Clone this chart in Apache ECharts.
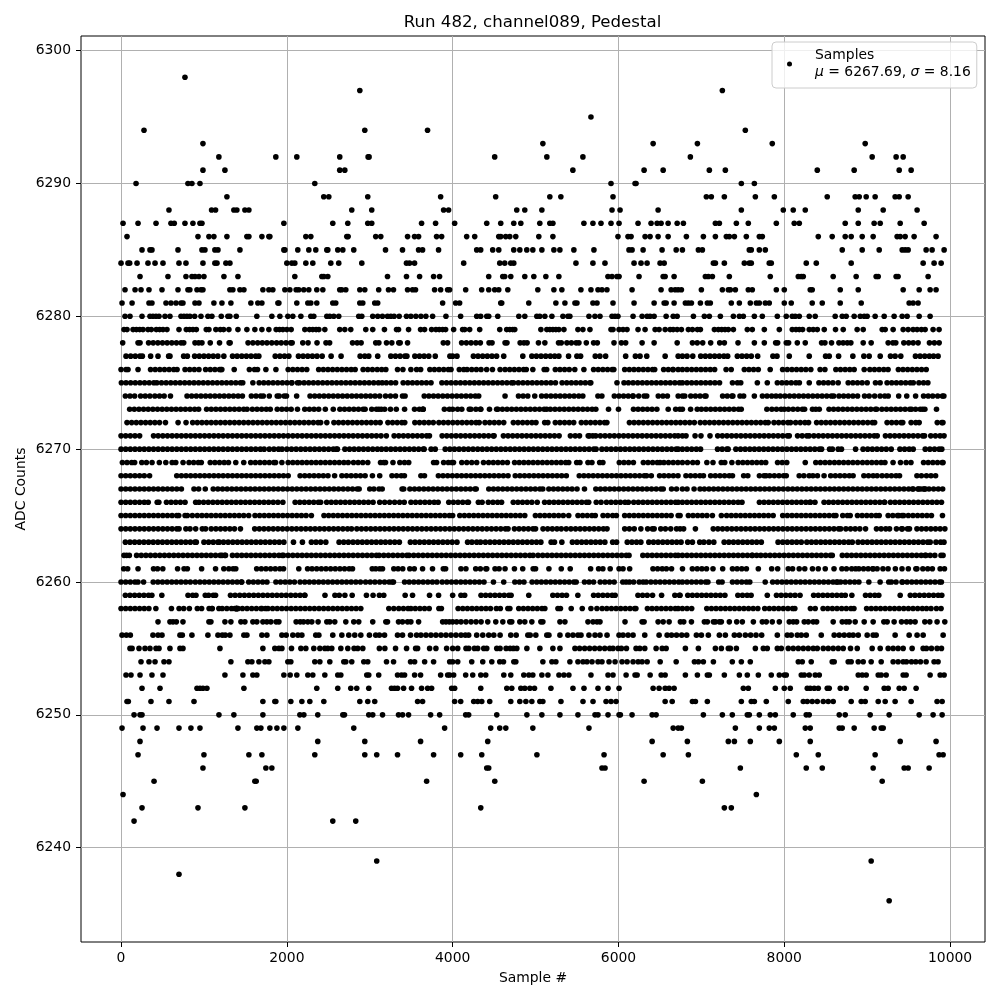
<!DOCTYPE html>
<html><head><meta charset="utf-8">
<style>html,body{margin:0;padding:0;background:#fff}#c{width:1000px;height:1000px}</style>
<script src="https://cdn.jsdelivr.net/npm/echarts@6/dist/echarts.min.js"></script>
</head><body><div id="c"></div>
<script>
const titleText = 'Run 482, channel089, Pedestal';
const xName = 'Sample #';
const yName = 'ADC Counts';
const xTicks = [0,2000,4000,6000,8000,10000];
const yTicks = [6240,6250,6260,6270,6280,6290,6300];
const r6298=[771];
const r6297=[2880,7253];
const r6295=[5668];
const r6294=[277,2940,3697,7530];
const r6293=[988,5088,6418,6952,7855,8976];
const r6292=[1180,1867,2120,2638,2980,2992,4507,5136,5571,6867,9060,9349,9434];
const r6291=[988,1253,2638,2699,5450,6309,6539,7096,7289,8398,8843,9386,9530];
const r6290=[181,807,855,952,2337,5910,6200,6212,7482,7639];
const r6289=[1277,2445,2506,2976,3855,4519,5172,5305,5934,7060,7120,7277,7651,7880,8518,8855,8904,8988,9096,9337,9386,9494];
const r6288=[578,1092,1140,1361,1397,1494,1542,2783,3024,3891,3951,4773,4870,5076,5922,6019,6478,7482,7988,8108,8253,8892,9193,9602];
const r6287=[24,205,422,602,642,771,867,952,976,1964,2554,2735,2976,3024,3625,3794,4024,4411,4580,4737,4822,5051,5172,5209,5583,5692,5789,5910,6007,6236,6393,6466,6514,6599,6708,6783,7169,7217,7422,7566,7904,8120,8181,8735,8892,9084,9157,9398,9687];
const r6286=[72,928,1060,1120,1277,1518,1542,1699,1783,1795,2229,2289,2723,2739,3072,3133,3456,3540,3589,3806,3867,4169,4266,4556,4580,4640,4689,4761,5039,5209,5994,6115,6152,6321,6381,6478,6599,6819,7024,7169,7301,7337,7398,7542,7699,7735,8410,8578,8735,8807,8940,9072,9361,9398,9458,9566,9831];
const r6285=[253,349,373,687,976,1012,1132,1169,1434,1964,1976,2132,2265,2349,2482,2494,2614,2675,2807,3190,3395,3589,3637,3830,4290,4338,4483,4556,4737,4810,4894,4967,5076,5221,5293,5462,5704,6127,6164,6297,6526,6696,6771,6964,7012,7578,7602,7699,7771,8699,8940,9145,9422,9458,9494,9711,9783,9928];
const r6284=[0,84,104,193,325,410,506,699,783,988,1132,1157,1265,1313,2000,2060,2096,2229,2313,2530,2626,2904,3443,3480,3540,4133,4568,4628,4701,4737,5487,5692,5837,6188,6272,6345,6502,6551,7145,7169,7277,7518,7578,7602,7819,7843,8265,8386,8807,9675,9807,9892];
const r6283=[229,566,783,855,892,940,1000,1241,1410,2096,2422,2446,2494,3214,3443,3601,3770,3842,4435,4604,4628,4701,4870,4979,5124,5281,5873,5922,5982,6007,6248,6539,6563,6671,7048,7084,7133,7337,7831,8169,8205,8229,8590,8867,9108,9133,9349,9373,9735];
const r6282=[48,169,241,337,494,687,807,830,916,964,988,1313,1349,1434,1482,1711,1783,1831,1976,2036,2112,2144,2204,2265,2361,2434,2638,2662,2711,2880,2940,3108,3226,3286,3456,3516,3552,3782,3855,3939,3963,4157,4350,4435,4507,4556,4665,5027,5221,5317,5547,5668,5753,5801,5861,6164,6514,6635,6684,6720,6759,7000,7253,7325,7349,7410,7566,7614,7904,8000,8313,8337,8675,8892,9434,9627,9759,9831];
const r6281=[12,133,337,373,542,602,663,723,747,892,940,1120,1217,1325,1566,1650,1699,1892,1904,2120,2253,2289,2361,2554,2590,2880,2916,3060,3096,3879,4036,4084,4580,4592,4918,5245,5354,5475,5499,5692,5741,5934,6188,6430,6551,6575,6671,6807,6843,6880,6988,7072,7108,7361,7458,7590,7663,7699,7771,7819,8000,8084,8337,8458,8675,8928,9506,9554,9614];
const r6280=[48,108,253,349,385,422,458,530,590,723,759,795,831,888,964,1048,1096,1209,1289,1313,1390,1638,1819,1916,2012,2072,2169,2289,2325,2482,2518,2566,2626,2867,2904,3036,3096,3153,3214,3254,3294,3355,3443,3496,3556,3617,3677,3758,3919,4096,4290,4338,4411,4435,4544,4798,4870,5015,5051,5112,5197,5330,5390,5414,5644,5716,5777,5922,5958,5994,6176,6285,6345,6381,6430,6575,6660,6708,6904,7036,7096,7229,7386,7458,7506,7639,7735,7916,8024,8096,8132,8181,8301,8373,8614,8699,8747,8843,8916,8964,9000,9096,9205,9325,9422,9482,9627,9759];
const r6279=[36,72,145,185,225,265,325,365,425,466,506,554,699,787,827,867,908,1028,1060,1144,1197,1237,1301,1410,1518,1614,1699,1783,1871,1912,1952,2000,2052,2217,2273,2313,2353,2386,2458,2638,2699,2771,2952,3036,3177,3323,3347,3468,3613,3661,3746,3798,3838,3879,3915,4012,4120,4145,4205,4326,4568,4652,4689,4725,4749,5064,5136,5172,5209,5245,5281,5342,5511,5571,5656,5910,5934,6007,6055,6103,6236,6321,6442,6490,6563,6623,6660,6708,6759,6843,6892,6952,6988,7157,7205,7245,7285,7325,7386,7554,7614,7759,7940,8096,8141,8181,8221,8301,8349,8398,8482,8618,8711,8879,8952,9181,9217,9313,9434,9494,9554,9602,9654,9699,9795,9867];
const r6278=[20,205,229,332,388,444,500,556,612,668,724,756,892,936,976,1076,1188,1304,1316,1532,1590,1648,1704,1760,1818,1876,1932,1990,2046,2064,2192,2256,2364,2472,2516,2792,2848,2896,3072,3110,3202,3266,3350,3367,3456,3887,3939,4108,4165,4222,4280,4334,4439,4475,4632,4655,4814,4860,4898,5035,5112,5277,5310,5378,5432,5490,5523,5612,5700,5745,5946,6035,6087,6285,6430,6708,6892,6950,7016,7112,7221,7277,7442,7639,7759,7896,7920,8024,8052,8157,8253,8450,8490,8570,8659,8710,8760,8803,8952,9048,9253,9310,9345,9442,9500,9555,9614,9751,9810,9868];
const r6277=[60,116,172,228,257,357,446,574,590,755,800,888,944,1000,1056,1112,1168,1240,1345,1400,1456,1512,1568,1624,1662,1860,1916,1972,2024,2140,2196,2252,2308,2364,2426,2534,2654,2884,2940,2988,3096,3254,3310,3366,3424,3448,3544,3600,3656,3712,3790,3967,4000,4052,4250,4306,4362,4418,4474,4530,4616,4846,4955,5010,5066,5122,5178,5231,5281,5398,5499,5543,5720,5776,5845,6087,6204,6260,6341,6563,6720,6771,6827,6896,6992,7048,7104,7160,7216,7272,7317,7434,7490,7546,7602,7679,7863,7912,8060,8301,8498,8542,8655,8827,8960,9024,9157,9281,9337,9405,9582,9638,9694,9750,9800,9855];
const r6276=[0,60,84,205,356,412,468,524,580,636,676,772,828,884,940,1020,1076,1132,1188,1216,1204,1365,1548,1610,1646,1747,1868,2016,2072,2128,2184,2240,2384,2440,2496,2552,2608,2664,2720,2776,2824,2920,2976,3032,3090,3144,3194,3335,3400,3496,3565,3614,3725,3780,3836,3892,3948,3980,4080,4134,4174,4230,4286,4342,4410,4480,4572,4632,4688,4744,4800,4856,4888,4967,5104,5134,5238,5294,5350,5406,5473,5583,5700,5756,5812,5868,5924,5944,6075,6131,6187,6243,6299,6355,6411,6437,6545,6601,6657,6659,6720,6771,6827,6883,6939,6995,7051,7107,7160,7298,7360,7518,7574,7630,7686,7830,7980,8036,8092,8148,8204,8260,8320,8432,8490,8622,8678,8734,8790,8843,8964,9032,9088,9144,9200,9252,9376,9432,9488,9544,9600,9656,9712];
const r6275=[4,60,116,172,228,284,340,396,432,488,544,600,656,712,768,824,880,936,992,1048,1104,1160,1216,1272,1328,1384,1440,1468,1590,1666,1722,1778,1834,1890,1946,2002,2058,2060,2128,2152,2208,2264,2320,2376,2432,2488,2544,2600,2656,2712,2768,2824,2880,2936,2992,3048,3104,3150,3200,3256,3312,3403,3459,3515,3571,3627,3683,3739,3870,3926,3982,4038,4094,4150,4206,4262,4318,4374,4430,4486,4542,4598,4654,4710,4734,4792,4848,4904,4960,5016,5072,5128,5184,5240,5320,5376,5432,5488,5544,5600,5656,5666,5982,6067,6120,6176,6232,6288,6344,6400,6456,6512,6568,6624,6680,6736,6771,6827,6883,6939,6995,7051,7107,7163,7219,7375,7435,7475,7675,7795,7916,7972,8028,8084,8140,8182,8301,8418,8474,8530,8586,8650,8771,8827,8883,8939,9000,9100,9156,9240,9296,9352,9408,9464,9520,9556,9624,9680,9732];
const r6274=[52,108,164,236,292,348,408,464,520,596,796,852,908,964,1020,1076,1132,1188,1244,1300,1356,1412,1464,1572,1628,1684,1716,1788,1884,1908,1968,1996,2118,2280,2336,2392,2448,2504,2560,2616,2672,2728,2784,2840,2896,2952,3008,3064,3120,3190,3250,3310,3395,3426,3657,3713,3769,3825,3881,3937,3993,4049,4105,4161,4217,4273,4314,4632,4794,4850,4906,4990,5073,5129,5185,5241,5297,5353,5409,5465,5521,5570,5752,5800,5950,6006,6062,6118,6174,6176,6244,6310,6341,6480,6536,6590,6720,6771,6800,6872,6928,6984,7040,7056,7256,7312,7368,7380,7466,7510,7639,7736,7792,7848,7900,7952,8008,8064,8120,8176,8232,8288,8344,8400,8456,8512,8568,8596,8660,8716,8772,8828,8884,8968,9024,9090,9156,9212,9254,9380,9477,9584,9680,9736,9790,9850,9925,9907];
const r6273=[104,160,216,272,328,384,440,496,552,608,664,720,776,832,888,936,1032,1088,1144,1200,1256,1312,1368,1424,1480,1520,1584,1640,1696,1752,1800,1884,1940,1996,2052,2128,2216,2272,2328,2384,2464,2560,2640,2696,2752,2808,2864,2920,2944,3024,3080,3110,3140,3180,3250,3320,3420,3540,3598,3640,3644,3644,3900,3960,4000,4060,4110,4200,4220,4280,4334,4340,4444,4530,4545,4600,4656,4712,4768,4824,4880,4936,4992,5048,5104,5134,5178,5234,5290,5346,5402,5458,5514,5570,5626,5682,5727,5880,6000,6181,6237,6293,6349,6405,6463,6600,6690,6740,6771,6870,6950,7000,7056,7112,7168,7224,7280,7336,7392,7448,7481,7790,7850,7906,7962,8000,8050,8106,8162,8218,8245,8340,8380,8422,8540,8595,8651,8707,8763,8819,8875,8931,8987,9043,9099,9115,9177,9233,9289,9345,9401,9457,9513,9535,9584,9640,9696,9670,9836];
const r6272=[72,128,184,240,296,352,408,464,536,688,784,864,920,976,1032,1088,1144,1200,1256,1312,1368,1424,1480,1536,1592,1648,1704,1760,1816,1872,1928,1984,2040,2096,2152,2208,2264,2320,2376,2408,2482,2568,2624,2680,2736,2792,2848,2904,2960,3016,3072,3125,3219,3275,3331,3387,3422,3544,3600,3656,3712,3766,3834,3890,3946,4002,4058,4114,4170,4226,4282,4320,4390,4446,4502,4558,4616,4732,4788,4844,4900,4956,5005,5110,5148,5238,5294,5350,5406,5460,5552,5608,5664,5720,5776,5832,5860,6132,6188,6244,6300,6356,6412,6468,6524,6580,6636,6692,6747,6803,6859,6915,6987,7043,7099,7155,7211,7267,7323,7379,7435,7491,7547,7603,7659,7715,7771,7806,7876,7932,7988,8044,8076,8137,8193,8249,8293,8390,8446,8502,8558,8614,8670,8726,8782,8838,8894,8950,9006,9062,9090,9240,9296,9352,9408,9429,9530,9586,9627,9845,9900,9914];
const r6271=[0,56,112,168,224,392,448,504,560,616,672,728,784,840,896,952,1008,1064,1120,1176,1232,1288,1344,1400,1456,1512,1568,1624,1680,1736,1792,1848,1904,1960,2016,2072,2128,2184,2240,2296,2352,2408,2464,2520,2576,2632,2688,2744,2800,2856,2912,2968,3024,3080,3136,3200,3294,3350,3406,3462,3518,3574,3630,3686,3720,3873,3929,3985,4041,4097,4153,4209,4265,4321,4377,4433,4489,4500,4612,4668,4724,4780,4836,4892,4948,5004,5060,5116,5172,5228,5284,5420,5478,5530,5635,5690,5650,5726,5782,5838,5894,5950,6006,6062,6118,6174,6230,6286,6342,6398,6454,6510,6566,6622,6678,6720,6771,6815,6924,6995,7104,7197,7253,7309,7365,7421,7477,7533,7589,7645,7701,7757,7813,7869,7925,7981,8037,8060,8160,8216,8272,8300,8357,8413,8469,8525,8581,8637,8693,8749,8805,8861,8917,8973,9029,9085,9121,9220,9276,9332,9388,9444,9500,9556,9612,9668,9692,9767,9823,9879,9927];
const r6270=[0,56,112,168,224,280,336,392,448,504,560,616,672,728,784,840,896,952,1008,1064,1120,1176,1232,1288,1344,1400,1456,1512,1568,1624,1680,1726,1788,1844,1900,1942,2000,2056,2112,2168,2224,2280,2336,2392,2448,2504,2560,2596,2610,2700,2756,2812,2868,2924,2980,3036,3092,3142,3198,3254,3310,3366,3422,3478,3534,3590,3646,3656,3740,3790,3910,3966,4022,4078,4134,4190,4246,4302,4358,4414,4470,4526,4582,4638,4694,4750,4806,4862,4918,4974,5030,5086,5142,5198,5254,5310,5366,5422,5478,5534,5590,5646,5702,5730,5800,5856,5912,5968,6024,6080,6136,6192,6248,6304,6360,6416,6472,6528,6584,6640,6696,6720,6771,6827,6883,6939,6990,7195,7251,7307,7323,7416,7472,7528,7584,7640,7696,7752,7808,7864,7920,7976,8032,8088,8144,8200,8256,8312,8368,8424,8450,8546,8580,8650,8690,8860,8950,9006,9062,9118,9174,9230,9290,9395,9451,9507,9555,9700,9756,9812,9868,9900];
const r6269=[16,72,128,164,250,306,374,462,540,616,660,748,820,876,932,968,1076,1132,1188,1244,1296,1384,1480,1564,1620,1676,1732,1788,1844,1864,1940,2016,2072,2128,2184,2240,2296,2352,2408,2464,2520,2576,2632,2688,2740,2804,2860,2916,2976,3168,3130,3190,3280,3363,3419,3470,3770,3806,3891,3947,3990,4010,4110,4170,4230,4290,4372,4434,4490,4546,4602,4660,4747,4803,4859,4915,4971,5027,5083,5139,5195,5251,5307,5363,5400,5496,5535,5632,5680,5773,5812,6010,6066,6122,6180,6300,6356,6412,6468,6501,6548,6604,6660,6716,6771,6832,6896,6952,7066,7140,7240,7282,7368,7444,7500,7556,7612,7668,7724,7776,7919,7975,8030,8253,8380,8436,8492,8548,8605,8660,8716,8772,8828,8884,8944,9000,9056,9112,9168,9214,9312,9402,9470,9528,9680,9736,9792,9848,9904,9915];
const r6268=[0,56,112,168,224,280,344,672,728,784,840,896,952,1008,1064,1120,1176,1232,1288,1344,1400,1456,1512,1568,1624,1680,1736,1792,1848,1904,1960,2016,2160,2216,2272,2328,2384,2440,2496,2576,2664,2720,2776,2832,2888,2944,3032,3120,3268,3324,3380,3418,3617,3660,3828,3884,3940,3996,4052,4108,4164,4220,4276,4332,4388,4444,4500,4556,4612,4668,4755,4811,4867,4923,4979,5035,5091,5147,5203,5259,5315,5371,5527,5583,5639,5695,5751,5807,5863,5919,5975,6031,6087,6143,6199,6255,6311,6339,6396,6496,6550,6606,6662,6718,6814,6870,6926,6982,7025,7112,7168,7224,7280,7336,7375,7510,7560,7700,7756,7780,7824,7880,7936,7992,8024,8180,8236,8300,8345,8400,8480,8560,8616,8672,8728,8784,8830,8960,9016,9072,9120,9180,9236,9292,9348,9390,9600,9654,9715,9770,9825];
const r6267=[0,56,112,168,224,280,336,392,448,504,560,616,672,728,880,936,1016,1112,1168,1224,1280,1336,1392,1448,1504,1560,1616,1672,1728,1784,1840,1896,1952,2008,2064,2120,2176,2232,2288,2344,2400,2456,2512,2568,2624,2680,2736,2792,2848,2872,3000,3050,3112,3150,3390,3410,3484,3540,3596,3652,3708,3764,3820,3876,3932,3988,4044,4100,4156,4212,4268,4284,4436,4492,4548,4604,4660,4716,4772,4828,4884,4940,4996,5052,5087,5160,5216,5272,5328,5384,5440,5500,5590,5727,5783,5839,5895,5951,6007,6063,6119,6175,6231,6287,6343,6399,6455,6511,6540,6640,6700,6771,6827,6912,6984,7036,7092,7148,7204,7260,7316,7372,7428,7484,7540,7596,7652,7708,7764,7820,7876,7932,7988,8044,8100,8156,8212,8268,8324,8380,8436,8492,8548,8604,8660,8716,8772,8828,8884,8940,8996,9052,9108,9164,9220,9276,9332,9388,9444,9500,9556,9612,9546,9620,9680,9690,9703,9646,9746,9802,9858,9910];
const r6266=[0,56,112,168,224,280,328,436,456,548,604,660,716,772,900,940,996,1052,1108,1164,1220,1276,1332,1388,1444,1500,1556,1612,1668,1724,1780,1836,1892,1952,2100,2156,2212,2268,2324,2380,2408,2480,2536,2592,2648,2704,2760,2816,2872,2928,2984,3040,3120,3180,3240,3300,3360,3416,3497,3553,3609,3665,3721,3777,3825,3953,4009,4065,4121,4177,4190,4310,4355,4430,4486,4542,4590,4731,4787,4843,4899,4955,5020,5109,5165,5221,5277,5333,5389,5445,5501,5557,5613,5641,5732,5790,5855,5911,5967,6023,6079,6120,6184,6240,6296,6352,6408,6464,6520,6576,6632,6688,6720,6771,6827,6883,6939,6995,7051,7107,7163,7219,7275,7331,7387,7443,7490,7700,7756,7812,7868,7924,7980,8036,8092,8148,8204,8260,8316,8310,8370,8480,8536,8592,8648,8704,8760,8816,8872,8928,8984,9040,9096,9152,9208,9210,9280,9336,9392,9448,9504,9560,9616,9672,9728,9784,9840,9896];
const r6265=[0,56,112,168,224,280,336,392,448,504,560,616,672,696,772,800,860,920,976,1032,1088,1144,1200,1256,1312,1368,1424,1480,1540,1616,1672,1728,1784,1840,1896,1952,2008,2064,2120,2176,2232,2296,2448,2504,2560,2616,2672,2728,2784,2840,2896,2952,3008,3064,3120,3176,3232,3288,3344,3400,3456,3512,3568,3624,3680,3736,3792,3848,3904,3960,4000,4086,4142,4198,4254,4310,4366,4422,4478,4534,4590,4646,4702,4758,4814,4870,4998,5054,5110,5166,5222,5278,5334,5400,5512,5568,5624,5680,5720,5814,5870,5930,5975,6075,6131,6187,6243,6299,6355,6411,6467,6523,6579,6635,6720,6743,6843,6899,6955,7011,7067,7133,7241,7305,7361,7417,7473,7529,7585,7641,7697,7753,7809,7866,7981,8037,8093,8149,8205,8261,8317,8373,8429,8485,8541,8597,8623,8705,8761,8795,8883,8939,8995,9051,9107,9145,9253,9309,9365,9421,9380,9440,9496,9552,9608,9664,9720,9775,9908];
const r6264=[0,56,112,168,224,280,336,392,448,504,560,616,672,700,782,832,900,980,1020,1088,1144,1200,1256,1312,1368,1440,1612,1668,1724,1780,1836,1892,1948,2004,2060,2116,2172,2228,2284,2340,2396,2452,2508,2564,2620,2676,2732,2780,2844,2900,2956,3012,3068,3124,3180,3236,3292,3348,3404,3460,3516,3572,3628,3684,3740,3796,3852,3908,3964,4020,4076,4132,4188,4244,4300,4356,4412,4468,4524,4580,4636,4668,4745,4801,4857,4913,4969,5000,5090,5146,5202,5258,5310,5370,5426,5482,5538,5594,5650,5706,5762,5818,5862,6075,6131,6190,6270,6352,6408,6431,6510,6566,6630,6700,6743,6786,6928,7143,7199,7255,7311,7367,7423,7479,7535,7591,7647,7703,7759,7815,7871,7927,7983,8039,8095,8151,8207,8263,8319,8375,8431,8487,8543,8599,8655,8681,8743,8799,8855,8911,8980,9112,9168,9224,9270,9353,9415,9424,9486,9510,9600,9656,9712,9768,9824,9880,9937];
const r6263=[52,108,164,220,276,332,388,444,500,556,612,668,724,780,836,892,908,1000,1056,1112,1168,1184,1236,1292,1348,1404,1460,1516,1572,1628,1684,1740,1796,1852,1908,1964,2080,2188,2296,2352,2408,2470,2630,2686,2742,2798,2854,2910,2966,3022,3078,3134,3189,3245,3301,3357,3490,3546,3602,3658,3714,3770,3826,3882,3938,3994,4052,4180,4232,4290,4336,4395,4451,4507,4563,4619,4675,4731,4787,4843,4899,4955,5011,5064,5188,5228,5317,5444,5500,5556,5612,5668,5724,5780,5836,5930,5977,6106,6162,6218,6270,6366,6422,6478,6534,6590,6646,6702,6755,6835,6892,6980,7030,7091,7150,7275,7331,7387,7443,7499,7555,7611,7667,7723,7925,7981,8037,8093,8149,8205,8272,8328,8384,8440,8496,8552,8608,8664,8720,8776,8820,8890,8946,9002,9058,9114,9170,9226,9282,9338,9394,9450,9506,9562,9618,9674,9729,9760,9830,9886,9926];
const r6262=[36,68,100,188,244,300,356,412,468,524,580,636,692,748,804,860,916,972,1028,1084,1140,1196,1252,1218,1260,1344,1400,1456,1512,1568,1624,1680,1736,1792,1848,1904,1960,1944,2016,2072,2128,2184,2240,2296,2352,2408,2464,2520,2576,2632,2688,2744,2800,2856,2912,2968,3024,3080,3113,3169,3225,3281,3337,3393,3448,3474,3530,3586,3642,3698,3754,3810,3866,3922,3978,4034,4090,4146,4202,4258,4314,4370,4426,4482,4538,4594,4650,4706,4762,4818,4874,4930,4970,5030,5086,5142,5198,5254,5310,5366,5422,5478,5534,5590,5646,5702,5758,5814,5870,5926,5982,6038,6094,6127,6294,6350,6406,6462,6518,6574,6630,6686,6720,6771,6827,6883,6939,6995,7051,7107,7163,7219,7275,7331,7387,7443,7499,7555,7611,7667,7615,7717,7773,7829,7885,7941,7997,8053,8109,8165,8221,8277,8333,8389,8445,8501,8557,8579,8700,8756,8812,8868,8924,8980,9036,9092,9148,9204,9260,9316,9372,9428,9484,9540,9596,9652,9708,9699,9760,9816,9890,9915];
const r6261=[32,80,205,392,440,504,682,760,800,972,1140,1240,1300,1352,1384,1636,1692,1748,1804,1860,1916,1960,2144,2250,2304,2360,2416,2472,2528,2584,2640,2696,2752,2792,3030,3072,3120,3154,3290,3342,3398,3483,3537,3637,3757,3887,3915,4100,4160,4278,4334,4400,4411,4511,4560,4632,4745,4845,4971,5000,5161,5310,5418,5664,5760,5812,5900,6007,6055,6135,6416,6472,6528,6578,6640,6772,6891,6950,7006,7062,7140,7257,7375,7431,7487,7543,7687,7848,7920,8048,8100,8180,8247,8340,8410,8494,8600,8695,8750,8813,8860,8900,8956,9012,9068,9070,9120,9190,9252,9340,9420,9496,9587,9600,9671,9730,9786,9880,9932];
const r6260=[0,56,112,168,204,272,388,444,500,556,612,668,724,780,836,896,952,1008,1064,1120,1176,1232,1288,1344,1400,1456,1452,1540,1596,1652,1708,1760,1868,1924,1980,2036,2092,2160,2216,2272,2328,2384,2440,2496,2552,2608,2664,2720,2776,2832,2888,2950,3006,3062,3120,3178,3234,3270,3286,3420,3476,3532,3588,3644,3700,3756,3810,3874,3930,3986,4042,4098,4154,4210,4266,4322,4378,4492,4616,4750,4806,4860,4958,5014,5070,5126,5182,5238,5294,5350,5406,5462,5490,5590,5646,5700,5780,5836,5892,5948,6052,6092,6133,6183,6250,6297,6335,6391,6447,6503,6559,6615,6671,6727,6771,6827,6883,6939,6995,7051,7079,7209,7250,7375,7431,7487,7543,7584,7770,7860,7916,7972,8028,8084,8140,8196,8252,8308,8364,8420,8476,8532,8588,8644,8630,8680,8736,8792,8848,8900,9020,9156,9260,9292,9348,9420,9426,9482,9538,9594,9650,9706,9762,9818,9874,9895];
const r6259=[52,108,164,220,276,332,372,492,808,864,904,1016,1056,1112,1140,1320,1376,1432,1488,1544,1600,1656,1712,1768,1824,1880,1936,1992,2048,2104,2160,2216,2216,2460,2580,2632,2700,2788,2960,3040,3116,3169,3427,3516,3721,3830,4000,4100,4145,4342,4398,4454,4510,4566,4622,4678,4705,4918,5208,5264,5320,5373,5510,5700,5756,5812,5868,5924,5960,6235,6291,6347,6411,6520,6680,6735,6743,6836,6892,6948,7004,7060,7116,7172,7228,7284,7440,7496,7552,7600,7795,7906,7962,8018,8074,8130,8190,8354,8410,8466,8522,8578,8634,8690,8736,8815,8980,9036,9092,9140,9398,9520,9576,9632,9688,9744,9800,9856,9900];
const r6258=[0,56,112,168,224,280,336,420,608,700,756,824,920,972,1062,1096,1100,1180,1220,1276,1332,1388,1392,1412,1396,1372,1392,1400,1464,1520,1576,1632,1688,1700,1744,1772,1828,1884,1940,1996,2052,2108,2164,2220,2276,2332,2388,2444,2500,2556,2612,2668,2724,2780,2836,2892,3230,3290,3350,3406,3462,3496,3549,3605,3661,3717,3834,3864,4066,4122,4178,4234,4290,4346,4402,4456,4527,4575,4666,4690,4797,4853,4909,4965,5021,5077,5112,5270,5300,5430,5563,5668,5740,5803,5859,5915,5971,6027,6083,6139,6195,6210,6349,6405,6461,6517,6573,6629,6685,6720,6771,6827,6883,7065,7121,7177,7233,7289,7345,7401,7457,7513,7569,7625,7681,7764,7820,7876,7932,7988,8044,8100,8127,8315,8373,8468,8524,8580,8636,8692,8748,8804,8840,8993,9049,9105,9161,9217,9273,9329,9385,9441,9497,9553,9609,9665,9716,9770,9835,9891];
const r6257=[446,590,627,667,747,1060,1084,1253,1325,1446,1494,1590,1638,1711,1759,1807,1871,1904,2112,2161,2201,2253,2301,2377,2482,2518,2578,2711,2807,2867,3036,3194,3214,3347,3395,3456,3496,3589,3879,3919,3960,4000,4048,4101,4161,4222,4282,4343,4423,4520,4605,4689,4713,4810,4870,4955,5064,5088,5294,5354,5632,5693,5741,5777,6079,6285,6309,6478,6539,6611,6747,6787,6880,7036,7072,7145,7169,7217,7241,7337,7426,7494,7627,7735,7783,7855,7940,8060,8108,8149,8241,8289,8349,8390,8590,8699,8747,8783,8855,8964,9072,9201,9241,9325,9414,9474,9522,9578,9695,9755,9843,9936];
const r6256=[12,64,112,385,446,494,711,739,855,1048,1169,1221,1257,1313,1482,1518,1699,1759,1940,1992,2072,2133,2181,2349,2386,2554,2663,2747,2819,2892,2996,3072,3116,3178,3335,3395,3492,3565,3617,3678,3738,3798,3859,3919,3980,4040,4101,4153,4193,4290,4363,4435,4496,4572,4701,4766,4907,4935,5003,5136,5161,5294,5390,5451,5511,5548,5644,5717,5777,5862,6007,6055,6116,6176,6317,6490,6587,6640,6700,6763,6823,6940,7000,7084,7217,7289,7398,7458,7530,7594,7659,7727,7916,8036,8084,8157,8205,8265,8446,8602,8663,8723,8783,8831,8892,9000,9072,9108,9337,9506,9602,9675,9916];
const r6255=[108,133,217,289,349,422,458,590,711,747,1193,1711,1855,1904,1940,2056,2169,2229,2325,2398,2458,2494,2542,2651,2735,2811,2855,2916,3116,3182,3311,3444,3553,3577,3722,3798,3927,4000,4061,4161,4194,4262,4302,4375,4411,4532,4572,4645,4693,4733,4774,4895,5052,5209,5294,5475,5531,5592,5652,5713,5773,5834,5894,5934,5995,6035,6096,6212,6257,6317,6454,6527,6575,6807,6964,7169,7241,7325,7349,7422,7651,7747,7795,7916,7964,8048,8108,8169,8229,8289,8349,8398,8470,8530,8590,8651,8711,8799,8880,9060,9157,9253,9313,9373,9434,9542,9675,9715,9775,9843,9896];
const r6254=[241,337,410,518,578,1325,1530,1578,1663,1735,1783,2012,2048,2337,2398,2518,2687,2711,2783,2928,2976,3202,3287,3492,3541,3662,3770,3964,4000,4061,4230,4363,4472,4568,4613,4738,4762,5088,5197,5245,5414,5511,5572,5620,5681,5753,5801,5886,5959,6043,6104,6176,6237,6285,6346,6503,6696,6916,6964,7024,7145,7373,7482,7590,8169,8217,8325,8578,8602,8771,8807,8892,8952,9048,9169,9313,9373,9434,9474,9534,9586,9643,9711,9807,9855];
const r6253=[60,120,229,373,506,1253,1470,1590,1638,1964,2040,2120,2253,2313,2458,2614,2651,2964,2988,3108,3335,3383,3420,3541,3613,3855,3940,3964,4012,4157,4242,4339,4399,4617,4701,4858,4919,4967,5076,5149,5282,5342,5402,5668,5874,5934,6092,6200,6225,6382,6515,6563,6807,6952,7072,7096,7277,7458,7554,7687,7843,7940,8000,8024,8205,8241,8301,8373,8422,8892,8940,8988,9133,9169,9229,9434,9470,9759,9880,9928];
const r6252=[253,470,916,952,988,1036,1482,2361,2614,2771,2843,2988,3262,3299,3335,3408,3504,3625,3698,3746,3988,4024,4339,4653,4713,4822,4870,4931,4987,5185,5451,5584,5753,5874,6007,6418,6490,6563,6611,6671,7506,7566,7892,8000,8072,8277,8313,8361,8410,8518,8542,8675,8747,8988,9205,9253,9386,9446,9590];
const r6251=[72,88,361,578,880,1711,1855,1867,2048,2181,2277,2446,2880,2976,3060,3577,3637,4024,4097,4254,4302,4351,4447,4701,4810,4883,4955,5052,5088,5306,5572,5693,5850,5910,5971,6563,6648,6892,6928,7072,7482,7602,7639,7783,8048,8229,8277,8337,8398,8470,8530,8590,8807,8928,8976,9133,9217,9337,9530,9843,9904];
const r6250=[157,229,253,1181,1361,1711,2157,2205,2373,2675,2695,2988,3036,3154,3347,3396,3468,3734,3843,4157,4193,4532,4895,5076,5294,5511,5717,5753,5874,6007,6023,6164,6406,6454,7024,7253,7373,7554,7578,7699,7831,7892,8108,8265,8301,8663,8735,9036,9265,9627,9795,9904];
const r6249=[12,265,434,699,843,952,1410,1638,1687,1795,1880,1964,2133,2807,3903,4459,4568,4641,4967,5644,6660,6720,6759,7410,7699,7819,7880,8253,8313,8663,8699,8843,9084,9169,9193];
const r6248=[229,2373,2940,3613,4423,6406,6831,7325,7398,7590,7940,8313,9398,9831];
const r6247=[205,1000,1542,1699,2337,2940,3084,3335,3770,4097,4351,5016,5826,6539,6843,8145,8410,9096,9867,9916];
const r6246=[988,1747,1819,4411,4435,5801,5838,7470,8265,8458,9072,9446,9494,9747];
const r6245=[398,1614,1630,3686,4508,6309,7012,9181];
const r6244=[24,7663];
const r6243=[253,928,1494,4339,7277,7361];
const r6242=[157,2554,2831];
const r6239=[3084,9048];
const r6238=[699];
const r6236=[9265];
const levels=[[6298,r6298],[6297,r6297],[6295,r6295],[6294,r6294],[6293,r6293],[6292,r6292],[6291,r6291],[6290,r6290],[6289,r6289],[6288,r6288],[6287,r6287],[6286,r6286],[6285,r6285],[6284,r6284],[6283,r6283],[6282,r6282],[6281,r6281],[6280,r6280],[6279,r6279],[6278,r6278],[6277,r6277],[6276,r6276],[6275,r6275],[6274,r6274],[6273,r6273],[6272,r6272],[6271,r6271],[6270,r6270],[6269,r6269],[6268,r6268],[6267,r6267],[6266,r6266],[6265,r6265],[6264,r6264],[6263,r6263],[6262,r6262],[6261,r6261],[6260,r6260],[6259,r6259],[6258,r6258],[6257,r6257],[6256,r6256],[6255,r6255],[6254,r6254],[6253,r6253],[6252,r6252],[6251,r6251],[6250,r6250],[6249,r6249],[6248,r6248],[6247,r6247],[6246,r6246],[6245,r6245],[6244,r6244],[6243,r6243],[6242,r6242],[6239,r6239],[6238,r6238],[6236,r6236]];
const points=[];
levels.forEach(([y,xs])=>xs.forEach(x=>points.push([x,y])));
const font='"DejaVu Sans"';
const chart=echarts.init(document.getElementById('c'),null,{renderer:'canvas'});
chart.setOption({
  animation:false,
  backgroundColor:'#fff',
  textStyle:{fontFamily:font},
  title:{text:titleText,left:532.5,textAlign:'center',top:14,padding:0,textStyle:{fontFamily:font,fontSize:16.6,fontWeight:'normal',color:'#000'}},
  grid:{left:81,right:15,top:36,bottom:58,show:true,borderColor:'#000',borderWidth:1,backgroundColor:'#fff'},
  xAxis:{type:'value',min:-483,max:10421,name:xName,nameLocation:'middle',nameGap:29,
    nameTextStyle:{fontFamily:font,fontSize:13.9,color:'#000'},
    axisLine:{show:false,onZero:false},
    axisTick:{show:true,length:5,inside:false,customValues:xTicks,lineStyle:{color:'#000',width:1}},
    axisLabel:{customValues:xTicks,margin:9,color:'#000',fontFamily:font,fontSize:13.9,hideOverlap:false,formatter:v=>String(v)},
    splitLine:{show:true,lineStyle:{color:'#b0b0b0',width:1}}},
  yAxis:{type:'value',min:6232.9,max:6301.1,name:yName,nameLocation:'middle',nameGap:53,nameRotate:90,nameMoveOverlap:false,
    nameTextStyle:{fontFamily:font,fontSize:13.9,color:'#000'},
    axisLine:{show:false,onZero:false},
    axisTick:{show:true,length:5,inside:false,customValues:yTicks,lineStyle:{color:'#000',width:1}},
    axisLabel:{customValues:yTicks,margin:10,color:'#000',fontFamily:font,fontSize:13.9,hideOverlap:false,formatter:v=>String(v)},
    splitLine:{show:true,lineStyle:{color:'#b0b0b0',width:1}}},
  legend:{show:true,left:772,top:42,orient:'vertical',icon:'circle',itemWidth:5,itemHeight:5,padding:[5,6,7,15],
    backgroundColor:'rgba(255,255,255,0.8)',borderColor:'#ccc',borderWidth:1,borderRadius:4,
    data:['Samples'],
    formatter:()=>'Samples\n{i|μ} = 6267.69, {i|σ} = 8.16',
    textStyle:{fontFamily:font,fontSize:13.9,color:'#000',lineHeight:17,padding:[0,0,0,18],
      rich:{i:{fontStyle:'italic',fontFamily:font,fontSize:13.9,color:'#000'}}}},
  series:[{type:'scatter',name:'Samples',data:points,symbol:'circle',symbolSize:5.6,itemStyle:{color:'#000',opacity:1},large:false,silent:true,z:3}]
});
</script></body></html>
